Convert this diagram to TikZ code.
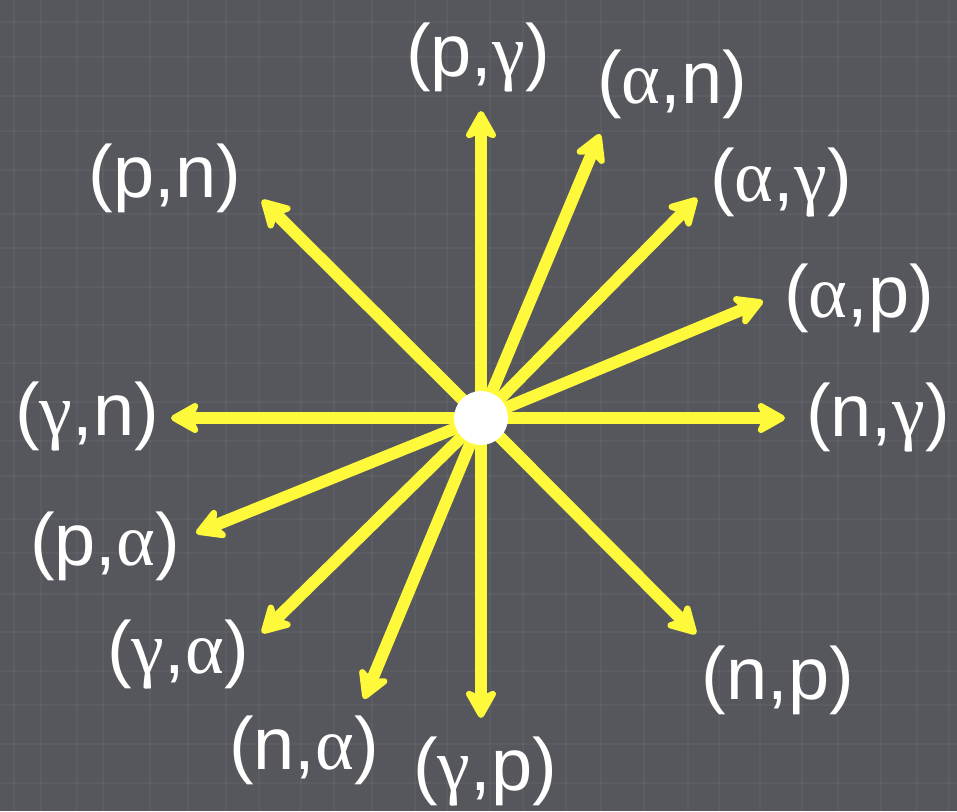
\documentclass[tikz,border=0pt]{standalone}
\usepackage{fontspec}
\setmainfont{Liberation Sans}
\newfontfamily\greekfont{Liberation Serif}
\usetikzlibrary{arrows.meta}
\definecolor{slate}{HTML}{55575C}
\definecolor{beam}{HTML}{FFF93C}
\newcommand{\alp}{{\greekfont α}}
\newcommand{\gam}{{\greekfont γ}}

\begin{document}
\begin{tikzpicture}[
    x=1pt, y=-1pt,
    ray/.style={draw=beam, line width=12pt, -{Stealth[length=34pt, width=38pt, inset=9pt, round]}},
    reac/.style={text=white, inner sep=0pt, font=\fontsize{74}{80}\selectfont},
    hub/.style={circle, fill=white, minimum size=54pt, inner sep=0pt},
    weave/.style={white, opacity=0.04, line width=1.2pt}
  ]
    \fill[slate] (0,0) rectangle (957,811);
    \useasboundingbox (0,0) rectangle (957,811);
    % cloth texture of the backdrop
    \foreach \u in {14,41,77,103,150,188,226,259,301,334,372,415,447,490,523,566,601,644,688,719,760,802,838,881,917,949}
      \draw[weave] (\u,0) -- (\u,811);
    \foreach \v in {22,57,96,131,170,214,248,287,325,363,402,441,476,519,553,594,632,671,705,744,783}
      \draw[weave] (0,\v) -- (957,\v);
    \coordinate (o) at (481,418);
    % tips of the rays
    \coordinate (tPG) at (481,111);
    \coordinate (tAN) at (600,134);
    \coordinate (tAG) at (697,198);
    \coordinate (tAP) at (763,301);
    \coordinate (tNG) at (785,418);
    \coordinate (tNP) at (696,634);
    \coordinate (tGP) at (481,718);
    \coordinate (tNA) at (364,699);
    \coordinate (tGA) at (262,633);
    \coordinate (tPA) at (196,533);
    \coordinate (tGN) at (171,418);
    \coordinate (tPN) at (262,200);
    % reaction labels
    \node[reac] (pg) at (478,58) {(p,\gam)};
    \node[reac] (an) at (672,84) {(\alp,n)};
    \node[reac] (ag) at (781,183) {(\alp,\gam)};
    \node[reac] (ap) at (859,298) {(\alp,p)};
    \node[reac] (ng) at (878,418) {(n,\gam)};
    \node[reac] (np) at (778,680) {(n,p)};
    \node[reac] (gp) at (485,772) {(\gam,p)};
    \node[reac] (na) at (304,750) {(n,\alp)};
    \node[reac] (ga) at (178,655) {(\gam,\alp)};
    \node[reac] (pa) at (105,546) {(p,\alp)};
    \node[reac] (gn) at (87,417) {(\gam,n)};
    \node[reac] (pn) at (165,178) {(p,n)};
    % rays
    \draw[ray] (o) -- (tPG);
    \draw[ray] (o) -- (tAN);
    \draw[ray] (o) -- (tAG);
    \draw[ray] (o) -- (tAP);
    \draw[ray] (o) -- (tNG);
    \draw[ray] (o) -- (tNP);
    \draw[ray] (o) -- (tGP);
    \draw[ray] (o) -- (tNA);
    \draw[ray] (o) -- (tGA);
    \draw[ray] (o) -- (tPA);
    \draw[ray] (o) -- (tGN);
    \draw[ray] (o) -- (tPN);
    \node[hub] (nucleus) at (o) {};
  \end{tikzpicture}
\end{document}
